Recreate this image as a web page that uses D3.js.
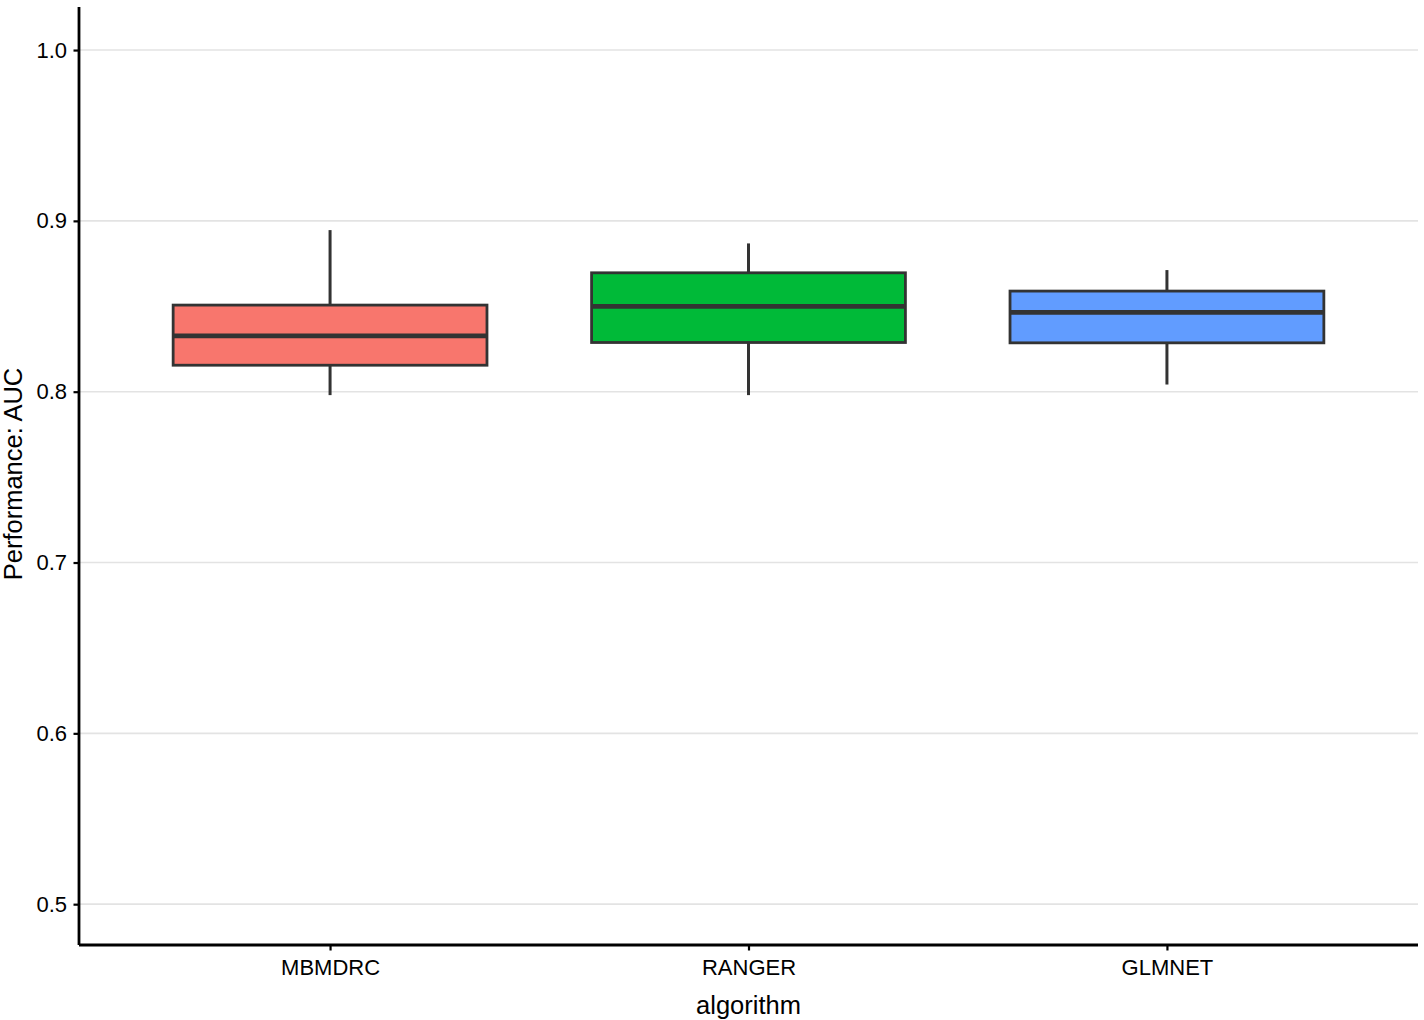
<!DOCTYPE html>
<html>
<head>
<meta charset="utf-8">
<script src="https://cdn.jsdelivr.net/npm/d3@7"></script>
<style>
    body { margin: 0; background: #fff; }
    svg { display: block; font-family: "Liberation Sans", Arial, sans-serif; }
</style>
</head>
<body>
<svg width="1424" height="1020"></svg>
<script>
// boxplot stats
const algorithms = ["MBMDRC", "RANGER", "GLMNET"];
const whiskerLow = [0.798, 0.798, 0.8042];
const q1 = [0.8155, 0.8288, 0.8286];
const medians = [0.8327, 0.8499, 0.8464];
const q3 = [0.8507, 0.8696, 0.8589];
const whiskerHigh = [0.8946, 0.8868, 0.8712];
const fills = ["#F8766D", "#00BA38", "#619CFF"];
const yTicks = [0.5, 0.6, 0.7, 0.8, 0.9, 1.0];

const svg = d3.select("svg");
const margin = { top: 7, right: 6, bottom: 75, left: 79 };
const width = 1424 - margin.left - margin.right;
const height = 1020 - margin.top - margin.bottom;

const g = svg.append("g").attr("transform", `translate(${margin.left},${margin.top})`);

const y = d3.scaleLinear().domain([0.4761, 1.0252]).range([height, 0]);
// ggplot discrete scale: positions 1..n with 0.6 expansion each side
const xPos = d3.scaleLinear().domain([0.4, algorithms.length + 0.6]).range([0, width]);
const boxW = xPos(1.75) - xPos(1);

// grid
g.append("g").selectAll("line")
    .data(yTicks)
    .join("line")
    .attr("x1", 0).attr("x2", width)
    .attr("y1", d => y(d)).attr("y2", d => y(d))
    .attr("stroke", "#e3e3e3")
    .attr("stroke-width", 1.6);

const boxes = g.append("g").selectAll("g")
    .data(algorithms)
    .join("g")
    .attr("transform", (d, i) => `translate(${xPos(i + 1)},0)`);

boxes.append("line")
    .attr("y1", (d, i) => y(whiskerHigh[i]))
    .attr("y2", (d, i) => y(q3[i]))
    .attr("stroke", "#333").attr("stroke-width", 3);

boxes.append("line")
    .attr("y1", (d, i) => y(q1[i]))
    .attr("y2", (d, i) => y(whiskerLow[i]))
    .attr("stroke", "#333").attr("stroke-width", 3);

boxes.append("rect")
    .attr("x", -boxW / 2)
    .attr("width", boxW)
    .attr("y", (d, i) => y(q3[i]))
    .attr("height", (d, i) => y(q1[i]) - y(q3[i]))
    .attr("fill", (d, i) => fills[i])
    .attr("stroke", "#333")
    .attr("stroke-width", 2.8);

boxes.append("line")
    .attr("x1", -boxW / 2).attr("x2", boxW / 2)
    .attr("y1", (d, i) => y(medians[i]))
    .attr("y2", (d, i) => y(medians[i]))
    .attr("stroke", "#333").attr("stroke-width", 4.8);

// axes
const yAxis = g.append("g")
    .call(d3.axisLeft(y).tickValues(yTicks).tickFormat(d3.format(".1f")).tickSize(5.5).tickPadding(6.5));
const xAxis = g.append("g")
    .attr("transform", `translate(0,${height})`)
    .call(d3.axisBottom(xPos).tickValues(d3.range(1, algorithms.length + 1))
        .tickFormat(d => algorithms[d - 1]).tickSize(5.5).tickPadding(8.5));

[yAxis, xAxis].forEach(ax => {
    ax.select(".domain").attr("stroke", "#000").attr("stroke-width", 2.8);
    ax.selectAll(".tick line").attr("stroke", "#000").attr("stroke-width", 2.2);
    ax.selectAll(".tick text").attr("fill", "#000").style("font-size", "22px");
});
yAxis.select(".domain").attr("d", `M0,${height}V0`);
xAxis.select(".domain").attr("d", `M0,0H${width}`);

svg.append("text")
    .attr("x", margin.left + width / 2)
    .attr("y", 1014)
    .attr("text-anchor", "middle")
    .style("font-size", "25.5px")
    .text("algorithm");

svg.append("text")
    .attr("transform", `translate(22,${margin.top + height / 2 - 2}) rotate(-90)`)
    .attr("text-anchor", "middle")
    .style("font-size", "25.5px")
    .text("Performance: AUC");
</script>
</body>
</html>
